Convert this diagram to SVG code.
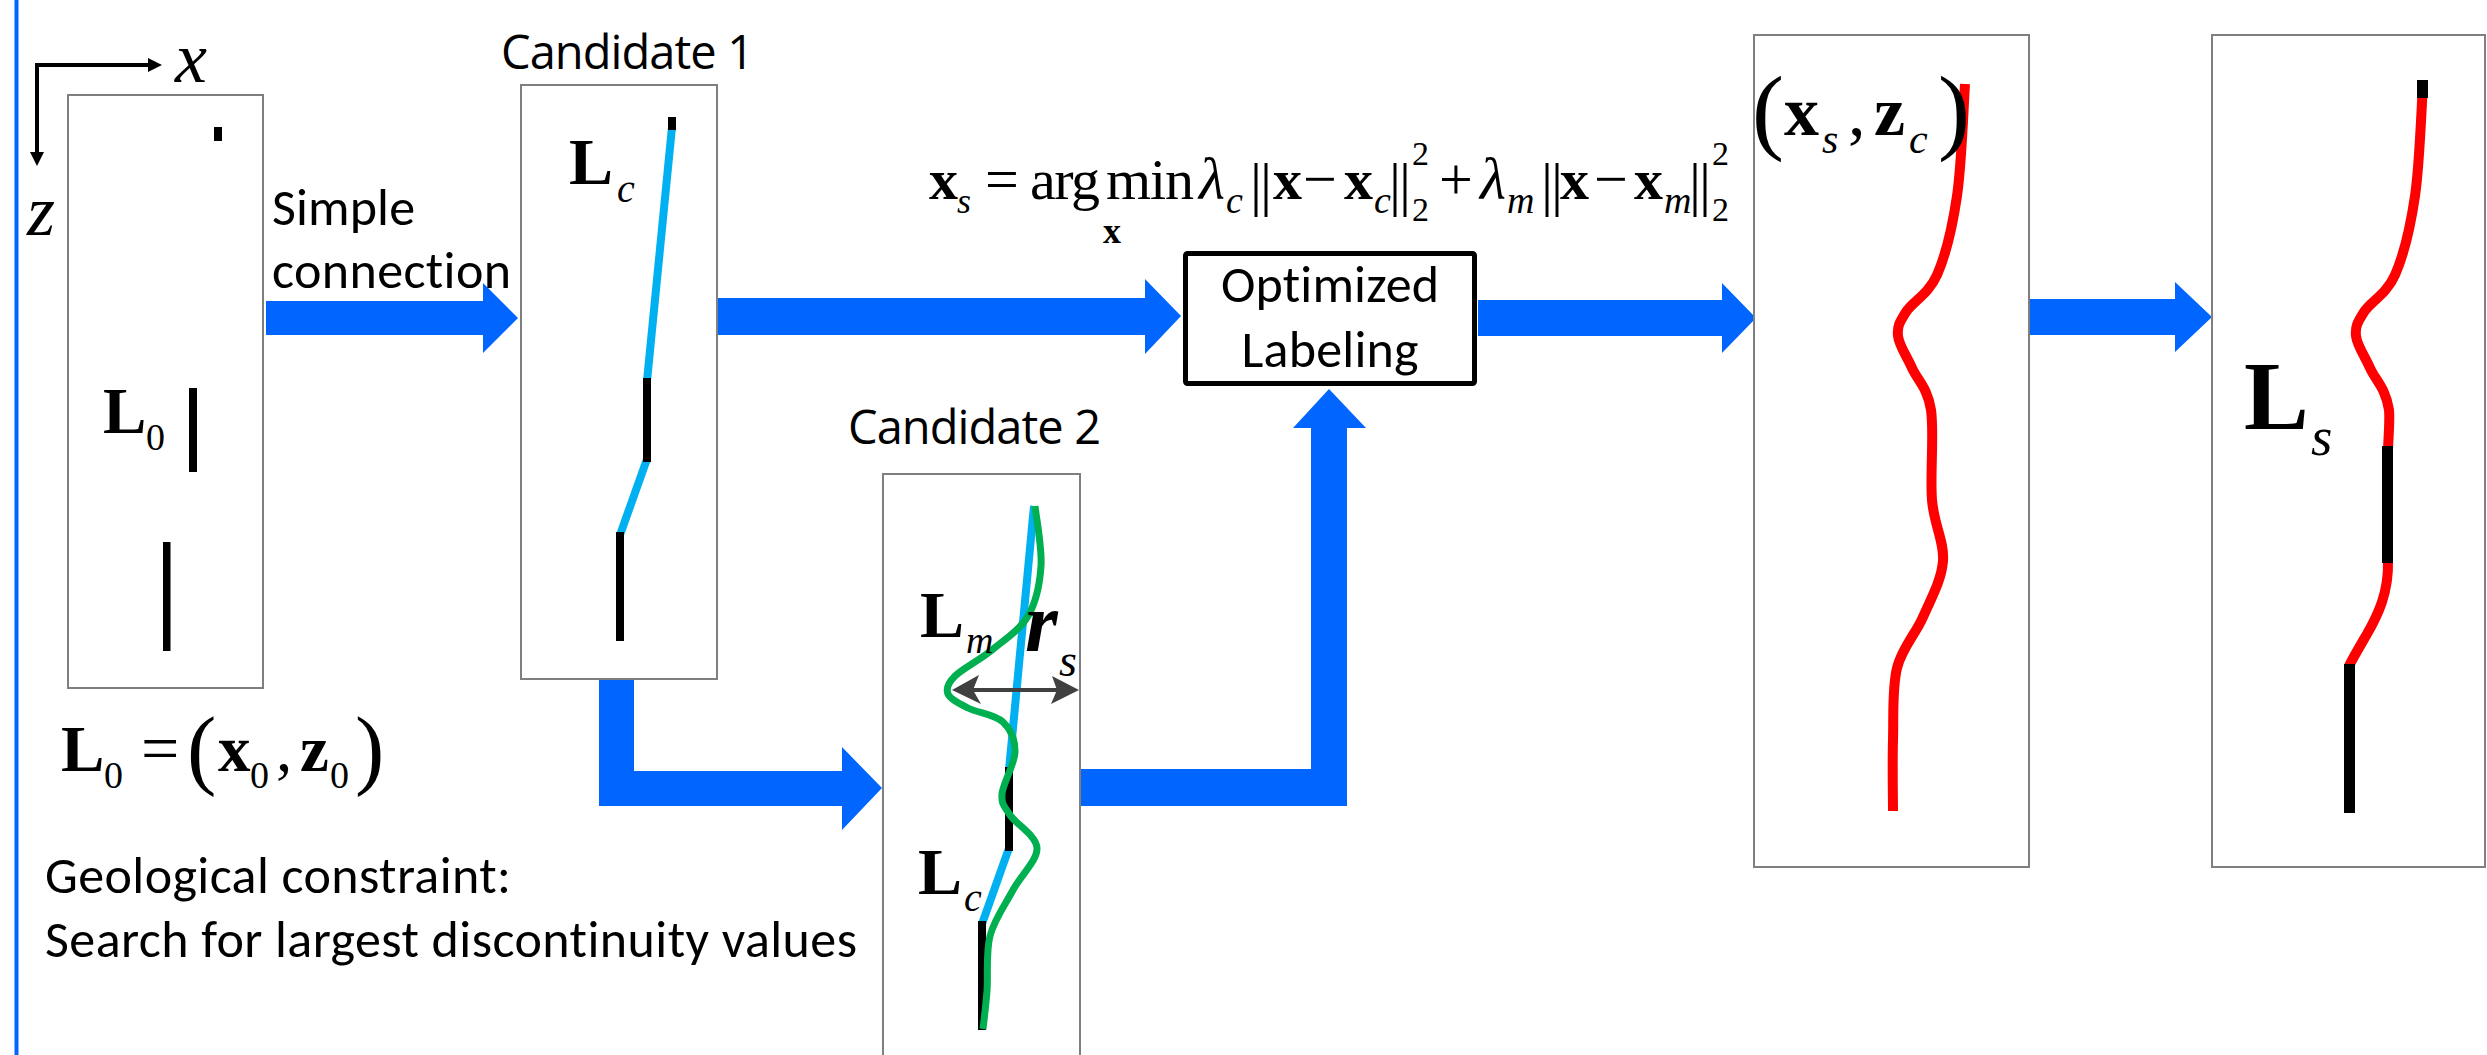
<svg xmlns="http://www.w3.org/2000/svg" width="2487" height="1055" viewBox="0 0 2487 1055">
  <style>
    .frame { fill: #ffffff; stroke: #7f7f7f; stroke-width: 2; }
    .flow { fill: #0066ff; }
    .seg { fill: #000000; }
    .link { stroke: #00b0f0; stroke-width: 8; fill: none; }
    .red { stroke: #ff0000; stroke-width: 10; fill: none; }
    .green { stroke: #00b050; stroke-width: 7; fill: none; }
    .m { font-family: "Liberation Serif", "Times New Roman", "DejaVu Serif", serif; fill: #000; }
    .b { font-weight: bold; }
    .i { font-style: italic; }
    .cal { font-family: Carlito, Calibri, Lato, sans-serif; font-size: 52px; fill: #000; font-variant-ligatures: no-common-ligatures; }
    .cand { font-family: "Open Sans", sans-serif; font-size: 47px; fill: #000; }
  </style>
  <defs>
    <!-- fault trace shared by the picked and the final fault panels -->
    <path id="faultCurve" d="M1965,84 C1963.7,102.7 1961.7,164.2 1957,196 C1952.3,227.8 1945.5,255.7 1937,275 C1928.5,294.3 1912.5,301.8 1906,312 C1899.5,322.2 1897,326.7 1898,336 C1899,345.3 1906.5,355.7 1912,368 C1917.5,380.3 1927.7,388 1931,410 C1934.3,432 1930,474.8 1932,500 C1934,525.2 1944.5,541.5 1943,561 C1941.5,580.5 1930.7,599.2 1923,617 C1915.3,634.8 1902,647.5 1897,668 C1892,688.5 1893.7,716.2 1893,740 C1892.3,763.8 1893,799.2 1893,811"/>
  </defs>

  <rect width="2487" height="1055" fill="#ffffff"/>

  <!-- left margin rule -->
  <rect x="14.5" y="0" width="4" height="1055" fill="#0066ff"/>

  <!-- coordinate axes -->
  <g id="axes">
    <path d="M150,65 H37 V154" fill="none" stroke="#000" stroke-width="4"/>
    <polygon points="148,58 162,65 148,72" fill="#000"/>
    <polygon points="30,152 37,166 44,152" fill="#000"/>
    <text class="m i" x="175" y="82" font-size="72">x</text>
    <text class="m i" x="27" y="235" font-size="72">z</text>
  </g>

  <!-- connectors -->
  <g id="connectors">
    <polygon class="flow" points="266,301 483,301 483,283 518,318 483,353 483,335 266,335"/>
    <polygon class="flow" points="717,298 1145,298 1145,279 1181,316 1145,354 1145,335 717,335"/>
    <polygon class="flow" points="599,680 634,680 634,771 842,771 842,747 882,788 842,830 842,806 599,806"/>
    <polygon class="flow" points="1081,769 1311,769 1311,428 1293,428 1329,389 1366,428 1347,428 1347,806 1081,806"/>
    <polygon class="flow" points="1478,300 1722,300 1722,283 1756,318 1722,353 1722,336 1478,336"/>
    <polygon class="flow" points="2030,299 2175,299 2175,282 2212,317 2175,352 2175,335 2030,335"/>
  </g>

  <!-- input fault segments -->
  <g id="input">
    <rect class="frame" x="68" y="95" width="195" height="593"/>
    <rect class="seg" x="214" y="127" width="8" height="14"/>
    <rect class="seg" x="189" y="388" width="8" height="84"/>
    <rect class="seg" x="163" y="542" width="7.5" height="109"/>
    <text class="m b" x="103" y="433" font-size="65">L</text>
    <text class="m" x="146" y="450" font-size="38">0</text>
  </g>

  <g id="input-label">
    <text class="m b" x="61" y="771" font-size="65">L</text>
    <text class="m" x="104" y="788" font-size="38">0</text>
    <text class="m" x="141" y="771" font-size="68">=</text>
    <text class="m" x="187" y="778" font-size="88">(</text>
    <text class="m b" x="218" y="771" font-size="65">x</text>
    <text class="m" x="250" y="788" font-size="38">0</text>
    <text class="m" x="276" y="771" font-size="65">,</text>
    <text class="m b" x="300" y="771" font-size="65">z</text>
    <text class="m" x="330" y="788" font-size="38">0</text>
    <text class="m" x="355" y="778" font-size="88">)</text>
  </g>

  <g id="simple-connection-label">
    <text class="cal" x="272" y="225" textLength="143">Simple</text>
    <text class="cal" x="272" y="288" textLength="239">connection</text>
  </g>

  <g id="constraint-label">
    <text class="cal" x="45" y="893" textLength="466">Geological constraint:</text>
    <text class="cal" x="45" y="957" textLength="812">Search for largest discontinuity values</text>
  </g>

  <!-- candidate 1: straight-line connection -->
  <g id="candidate1">
    <text class="cand" x="501" y="69" textLength="253">Candidate 1</text>
    <rect class="frame" x="521" y="85" width="196" height="594"/>
    <line class="link" x1="672" y1="127" x2="647" y2="381"/>
    <line class="link" x1="647" y1="459" x2="620" y2="535"/>
    <rect class="seg" x="668" y="117" width="8" height="13"/>
    <rect class="seg" x="643" y="378" width="8" height="84"/>
    <rect class="seg" x="616" y="532" width="8" height="109"/>
    <text class="m b" x="569" y="184" font-size="66">L</text>
    <text class="m i" x="617" y="202" font-size="40">c</text>
  </g>

  <!-- candidate 2: max-discontinuity trace within search radius -->
  <g id="candidate2">
    <text class="cand" x="848" y="444" textLength="253">Candidate 2</text>
    <rect class="frame" x="883" y="474" width="197" height="600"/>
    <line class="link" x1="1034" y1="506" x2="1009" y2="770"/>
    <line class="link" x1="1009" y1="848" x2="982" y2="924"/>
    <rect class="seg" x="1005" y="767" width="8" height="84"/>
    <rect class="seg" x="978" y="921" width="8" height="109"/>
    <path class="green" d="M1035,506 C1036,516 1042.2,547.7 1041,566 C1039.8,584.3 1036.2,602 1028,616 C1019.8,630 1004.2,640 992,650 C979.8,660 962.3,668.7 955,676 C947.7,683.3 945.8,688.7 948,694 C950.2,699.3 958.8,703.3 968,708 C977.2,712.7 995.2,714.7 1003,722 C1010.8,729.3 1015.2,740 1015,752 C1014.8,764 1002.8,783.5 1002,794 C1001.2,804.5 1004.2,806 1010,815 C1015.8,824 1036.5,835.5 1037,848 C1037.5,860.5 1020.8,875.3 1013,890 C1005.2,904.7 994.3,919.2 990,936 C985.7,952.8 988.2,975.5 987,991 C985.8,1006.5 983.7,1022.7 983,1029"/>
    <line x1="970" y1="690" x2="1060" y2="690" stroke="#404040" stroke-width="4"/>
    <polygon points="952,690 979,675 973,690 981,704" fill="#404040"/>
    <polygon points="1079,690 1052,676 1057,690 1051,704" fill="#404040"/>
    <text class="m b" x="920" y="637" font-size="66">L</text>
    <text class="m i" x="966" y="653" font-size="38">m</text>
    <text class="m b i" x="1025" y="651" font-size="84">r</text>
    <text class="m i" x="1059" y="676" font-size="46">s</text>
    <text class="m b" x="918" y="894" font-size="66">L</text>
    <text class="m i" x="964" y="911" font-size="40">c</text>
  </g>

  <!-- optimisation objective -->
  <g id="objective">
    <text class="m b" x="929" y="199" font-size="58">x</text>
    <text class="m i" x="957" y="213" font-size="36">s</text>
    <text class="m" x="985" y="199" font-size="60">=</text>
    <text class="m" x="1030" y="199" font-size="58" textLength="70">arg</text>
    <text class="m" x="1106" y="199" font-size="58" textLength="88">min</text>
    <text class="m b" x="1103" y="243" font-size="36">x</text>
    <text class="m i" x="1199" y="199" font-size="60">λ</text>
    <text class="m i" x="1226" y="213" font-size="38">c</text>
    <text class="m" x="1250" y="204" font-size="60">|</text>
    <text class="m" x="1260" y="204" font-size="60">|</text>
    <text class="m b" x="1273" y="199" font-size="58">x</text>
    <text class="m" x="1303" y="199" font-size="60">−</text>
    <text class="m b" x="1344" y="199" font-size="58">x</text>
    <text class="m i" x="1374" y="213" font-size="38">c</text>
    <text class="m" x="1389" y="204" font-size="60">|</text>
    <text class="m" x="1399" y="204" font-size="60">|</text>
    <text class="m" x="1412" y="165" font-size="34">2</text>
    <text class="m" x="1412" y="221" font-size="34">2</text>
    <text class="m" x="1439" y="199" font-size="60">+</text>
    <text class="m i" x="1480" y="199" font-size="60">λ</text>
    <text class="m i" x="1507" y="213" font-size="38">m</text>
    <text class="m" x="1541" y="204" font-size="60">|</text>
    <text class="m" x="1551" y="204" font-size="60">|</text>
    <text class="m b" x="1560" y="199" font-size="58">x</text>
    <text class="m" x="1594" y="199" font-size="60">−</text>
    <text class="m b" x="1634" y="199" font-size="58">x</text>
    <text class="m i" x="1664" y="213" font-size="38">m</text>
    <text class="m" x="1689" y="204" font-size="60">|</text>
    <text class="m" x="1699" y="204" font-size="60">|</text>
    <text class="m" x="1712" y="165" font-size="34">2</text>
    <text class="m" x="1712" y="221" font-size="34">2</text>
  </g>

  <g id="optimized-labeling">
    <rect x="1185.5" y="253.5" width="289" height="130" fill="#ffffff" stroke="#000" stroke-width="5" rx="2"/>
    <text class="cal" x="1330" y="302" text-anchor="middle" textLength="218">Optimized</text>
    <text class="cal" x="1330" y="367" text-anchor="middle" textLength="177">Labeling</text>
  </g>

  <!-- optimised trace -->
  <g id="optimized-trace">
    <rect class="frame" x="1754" y="35" width="275" height="832"/>
    <use href="#faultCurve" class="red"/>
    <text class="m" x="1752" y="142" font-size="96">(</text>
    <text class="m b" x="1784" y="135" font-size="70">x</text>
    <text class="m i" x="1822" y="153" font-size="42">s</text>
    <text class="m" x="1848" y="135" font-size="70">,</text>
    <text class="m b" x="1874" y="135" font-size="70">z</text>
    <text class="m i" x="1909" y="153" font-size="42">c</text>
    <text class="m" x="1938" y="142" font-size="96">)</text>
  </g>

  <!-- final fault: original segments joined by optimised links -->
  <g id="final-fault">
    <rect class="frame" x="2212" y="35" width="273" height="832"/>
    <path class="red" d="M2423,84 C2421.7,102.7 2419.7,164.2 2415,196 C2410.3,227.8 2403.5,255.7 2395,275 C2386.5,294.3 2370.5,301.8 2364,312 C2357.5,322.2 2355,326.7 2356,336 C2357,345.3 2364.5,355.7 2370,368 C2375.5,380.3 2385.7,388 2389,410 C2390,420 2388.5,435 2388,450"/>
    <path class="red" d="M2388,560 C2389,592 2378,615 2367,634 C2360,646 2354,656 2349,666"/>
    <rect class="seg" x="2417" y="80" width="11" height="18"/>
    <rect class="seg" x="2382" y="446" width="11" height="117"/>
    <rect class="seg" x="2344" y="664" width="11" height="149"/>
    <text class="m b" x="2244" y="429" font-size="97">L</text>
    <text class="m i" x="2311" y="455" font-size="55">s</text>
  </g>
</svg>
